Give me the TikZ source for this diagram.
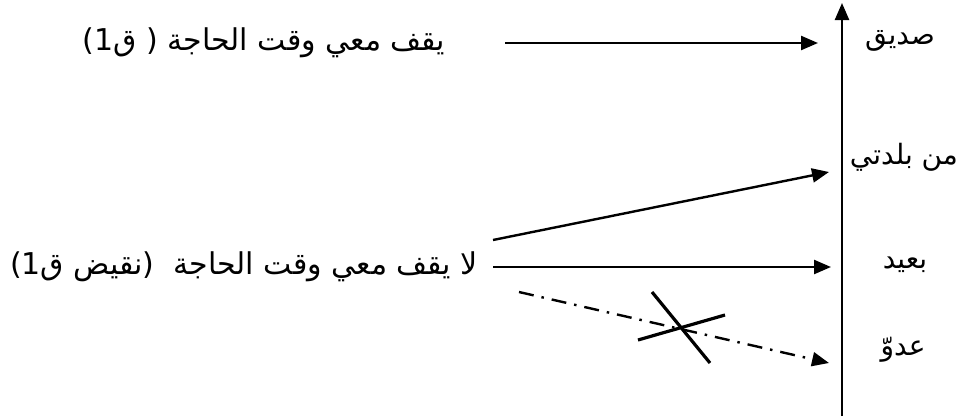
\documentclass[tikz,border=0pt]{standalone}
\usepackage{fontspec}
\TeXXeTstate=1
\newfontfamily\arabicfont[Script=Arabic]{DejaVu Sans}
\usetikzlibrary{arrows.meta}
\begin{document}
\begin{tikzpicture}[x=1pt,y=-1pt,
  line width=2.4pt,
  arr/.style={-{Triangle[length=17pt,width=14pt]}},
  ar/.style={font=\arabicfont\fontsize{30}{36}\selectfont, inner sep=0pt},
  lab/.style={font=\arabicfont\fontsize{28}{34}\selectfont, inner sep=0pt},
  dashdot/.style={dash pattern=on 15pt off 8pt on 2.5pt off 8pt}]
\useasboundingbox (0,0) rectangle (962,416);
% texts
\node[ar] (t1) at (264,43) {\beginR يقف معي وقت الحاجة ( ق1)\endR};
\node[ar] (t2) at (244,267) {\beginR لا يقف معي وقت الحاجة \ (نقيض ق1)\endR};
% labels
\node[lab] (l1) at (900,41) {\beginR صديق\endR};
\node[lab] (l2) at (904,157) {\beginR من بلدتي\endR};
\node[lab] (l3) at (905,265) {\beginR بعيد\endR};
\node[lab] (l4) at (903,350) {\beginR عدوّ\endR};
% axis
\coordinate (axb) at (842,416);
\coordinate (axt) at (842,3);
\draw[arr] (axb) -- (axt);
% arrows
\coordinate (a1s) at (505,43);
\coordinate (a1e) at (818,43);
\draw[arr] (a1s) -- (a1e);
\coordinate (a2s) at (493,240);
\coordinate (a2e) at (829,172);
\draw[arr] (a2s) -- (a2e);
\coordinate (a3s) at (493,267);
\coordinate (a3e) at (831,267);
\draw[arr] (a3s) -- (a3e);
\coordinate (a4s) at (519,292);
\coordinate (a4e) at (829,363);
\draw[arr, dashdot] (a4s) -- (a4e);
% cross
\coordinate (c1a) at (652,292);
\coordinate (c1b) at (710,363);
\coordinate (c2a) at (638,340);
\coordinate (c2b) at (725,315);
\draw[line width=3.2pt] (c1a) -- (c1b);
\draw[line width=3.2pt] (c2a) -- (c2b);
\end{tikzpicture}
\end{document}
